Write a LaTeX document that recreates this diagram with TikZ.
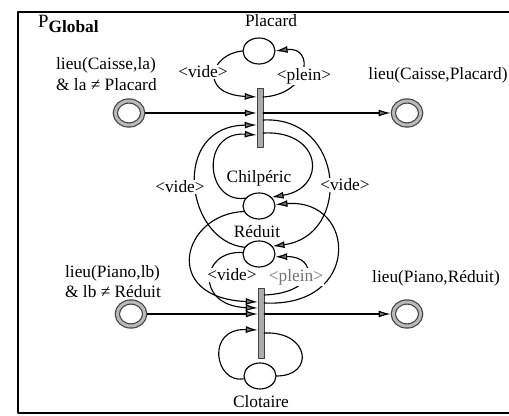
\documentclass[tikz,border=0pt]{standalone}
\usepackage{fontspec}
\setmainfont{Liberation Serif}
\usetikzlibrary{arrows.meta,shapes.geometric,calc}

\begin{document}
\begin{tikzpicture}[x=0.3mm, y=0.3mm, line cap=round, line join=round,
    >={Latex[length=3.6mm,width=2.1mm,fill=black!55]},
    every node/.style={font=\fontsize{14.8}{17.5}\selectfont},
    placenode/.style={ellipse, draw, line width=0.34mm, minimum width=9.6mm, minimum height=7.8mm, inner sep=0pt},
    bigplace/.style={ellipse, draw=black!75, double=gray!55, double distance=0.9mm, line width=0.35mm,
      minimum width=8.2mm, minimum height=7.2mm, inner sep=0pt, outer sep=0.8mm},
    transbar/.style={rectangle, fill=gray!65, draw=gray!50!black, line width=0.15mm, minimum width=1.8mm, inner sep=0pt},
    flow/.style={->, line width=0.34mm},
    tagtext/.style={fill=white, inner sep=1pt}]
  % Page size and frame
  \useasboundingbox (0,0) rectangle (509,416);
  \draw[line width=0.35mm] (18,3) rectangle (520,404);
  \node[anchor=base west] (pglobal) at (34,388) {{\fontsize{16}{18}\selectfont P}\raisebox{-1.5mm}{\bfseries Global}};

  % Transitions
  \node[transbar, minimum height=17.7mm] (T1) at (260,298.5) {};
  \node[transbar, minimum height=21mm] (T2) at (261,93) {};

  % Resource places
  \node[placenode] (plac) at (259,365) {};
  \node[placenode] (chil) at (259,210) {};
  \node[placenode] (red) at (259,162) {};
  \node[placenode] (clot) at (260,40) {};

  % Object places
  \node[bigplace] (caisseA) at (129,303) {};
  \node[bigplace] (caisseB) at (407,303) {};
  \node[bigplace] (pianoC) at (131,102) {};
  \node[bigplace] (pianoD) at (407,102) {};

  % Placard loop
  \draw[flow] (plac.west) .. controls (210,362) and (198,322) .. ($(T1.west)+(0,20.5)$);
  \draw[flow] ($(T1.east)+(0,20.5)$) .. controls (310,322) and (315,370) .. (plac.east);

  % Caisse moves
  \draw[flow] (caisseA.east) -- (T1.west |- caisseA.east);
  \draw[flow] (T1.east |- caisseB.west) -- (caisseB.west);

  % Chilperic inner loop
  \draw[flow] (chil.150) .. controls (205,212) and (200,285) .. ($(T1.west)+(0,-17.5)$);
  \draw[flow] ($(T1.east)+(0,-15.5)$) .. controls (322,286) and (328,228) .. (chil.35);

  % Reduit outer loop
  \draw[flow] (red.155) .. controls (185,175) and (170,290) .. ($(T1.west)+(0,-7.5)$);
  \draw[flow] ($(T1.east)+(0,-2.5)$) .. controls (345,300) and (352,180) .. (red.30);

  % Chilperic big loop through T2
  \draw[flow] (chil.200) .. controls (182,202) and (160,118) .. ($(T2.west)+(0,21)$);
  \draw[flow] ($(T2.east)+(0,20)$) .. controls (362,108) and (357,218) .. (chil.5);

  % Reduit loop at T2
  \draw[flow] (red.175) .. controls (200,166) and (195,110) .. ($(T2.west)+(0,15)$);
  \draw[flow] ($(T2.east)+(0,28)$) .. controls (318,123) and (318,160) .. (red.350);

  % Piano moves
  \draw[flow] (pianoC.east) -- (T2.west |- pianoC.east);
  \draw[flow] (T2.east |- pianoD.west) -- (pianoD.west);

  % Clotaire loop
  \draw[flow] (clot.190) .. controls (215,32) and (205,88) .. ($(T2.west)+(0,-7)$);
  \draw[line width=0.34mm] ($(T2.east)+(0,-10)$) .. controls (310,85) and (315,40) .. (clot.east);

  % Names
  \node (placLbl) at (271,395) {Placard};
  \node (chilLbl) at (259,238) {Chilpéric};
  \node (redLbl) at (257,184) {Réduit};
  \node (clotLbl) at (261,14) {Clotaire};
  \node[anchor=west, align=left] (caisseALbl) at (52,342) {lieu(Caisse,la)\\\& la ≠ Placard};
  \node (caisseBLbl) at (438,341) {lieu(Caisse,Placard)};
  \node[anchor=west, align=left] (pianoCLbl) at (61,134.5) {lieu(Piano,lb)\\\& lb ≠ Réduit};
  \node (pianoDLbl) at (436,138) {lieu(Piano,Réduit)};

  % Arc inscriptions
  \node[tagtext] (videP) at (203,344) {<vide>};
  \node[tagtext] (pleinP) at (304,340) {<plein>};
  \node[tagtext] (videL) at (180,229) {<vide>};
  \node[tagtext] (videR) at (345,231) {<vide>};
  \node[tagtext] (videRed) at (232,141) {<vide>};
  \node[tagtext, text=black!55] (pleinRed) at (296,139) {<plein>};
\end{tikzpicture}
\end{document}
